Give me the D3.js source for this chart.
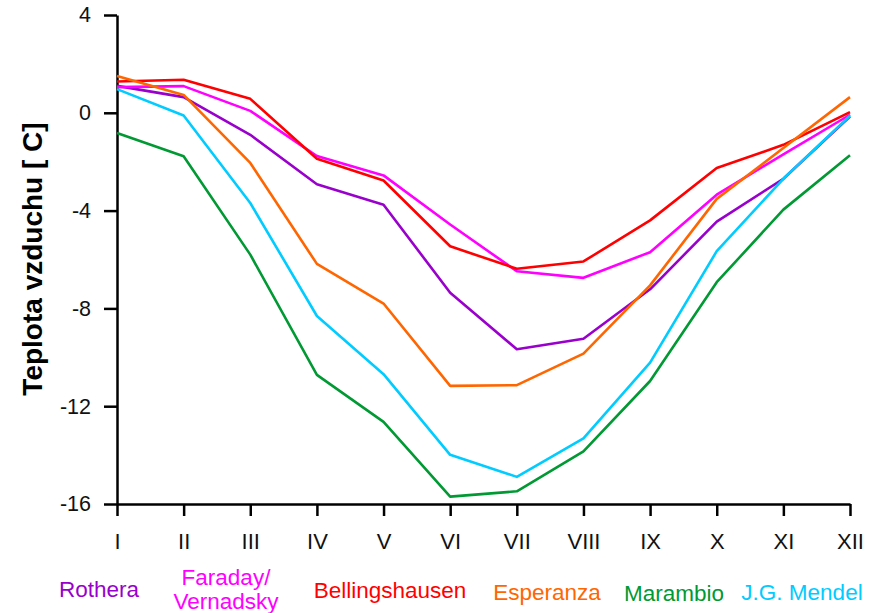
<!DOCTYPE html>
<html>
<head>
<meta charset="utf-8">
<script src="https://cdn.jsdelivr.net/npm/d3@7"></script>
<style>
  body { margin: 0; background: #fff; }
  svg { display: block; font-family: "Liberation Sans", Arial, sans-serif; }
</style>
</head>
<body>
<svg id="chart" width="877" height="613"></svg>
<script>
// months (Roman numerals) and y ticks
var months = ["I", "II", "III", "IV", "V", "VI", "VII", "VIII", "IX", "X", "XI", "XII"];
var yTicks = [-16, -12, -8, -4, 0, 4];

// mean monthly air temperature per station
var rothera     = [1.1, 0.64, -0.9, -2.92, -3.76, -7.36, -9.67, -9.24, -7.22, -4.45, -2.7, -0.15];
var faraday     = [1.05, 1.09, 0.08, -1.77, -2.56, -4.57, -6.48, -6.75, -5.7, -3.35, -1.7, -0.08];
var bellings    = [1.28, 1.35, 0.57, -1.88, -2.77, -5.46, -6.38, -6.08, -4.4, -2.26, -1.31, 0.03];
var esperanza   = [1.51, 0.73, -2.05, -6.18, -7.8, -11.17, -11.14, -9.85, -7.06, -3.52, -1.44, 0.64];
var marambio    = [-0.83, -1.78, -5.8, -10.72, -12.64, -15.7, -15.48, -13.85, -10.97, -6.93, -3.96, -1.74];
var mendel      = [0.97, -0.11, -3.69, -8.31, -10.69, -13.99, -14.89, -13.32, -10.22, -5.66, -2.7, -0.12];

var stations = ["Rothera", "Faraday/\nVernadsky", "Bellingshausen", "Esperanza", "Marambio", "J.G. Mendel"];
var colors = ["#9900cc", "#ff00ff", "#ff0000", "#ff6600", "#009933", "#00ccff"];
var series = [rothera, faraday, bellings, esperanza, marambio, mendel];

var svg = d3.select("#chart");

var xScale = d3.scalePoint().domain(months).range([117, 850]);
var yScale = d3.scaleLinear().domain([-16, 4]).range([504, 15]);

// y axis (plain hyphen for minus, like the original)
var yAxis = svg.append("g")
    .attr("transform", "translate(117,0)")
    .call(d3.axisLeft(yScale).tickValues(yTicks).tickFormat(function (d) { return String(d); })
        .tickSize(13).tickSizeOuter(0).tickPadding(13));
yAxis.select(".domain").attr("stroke", "#000").attr("stroke-width", 2.5);
yAxis.selectAll(".tick line").attr("stroke", "#000").attr("stroke-width", 2.5);
yAxis.selectAll(".tick text")
    .attr("font-size", 21.5)
    .attr("font-family", "Liberation Sans, Arial, sans-serif")
    .attr("fill", "#111");

// x axis
var xAxis = svg.append("g")
    .attr("transform", "translate(0,504)")
    .call(d3.axisBottom(xScale).tickSize(12).tickSizeOuter(0).tickPadding(17));
xAxis.select(".domain").attr("stroke", "#000").attr("stroke-width", 2.5);
xAxis.selectAll(".tick line").attr("stroke", "#000").attr("stroke-width", 2.5);
xAxis.selectAll(".tick text")
    .attr("font-size", 22)
    .attr("font-family", "Liberation Sans, Arial, sans-serif")
    .attr("fill", "#111");

// y title
svg.append("text")
    .attr("transform", "translate(42,259) rotate(-90)")
    .attr("text-anchor", "middle")
    .attr("font-size", 28)
    .attr("font-weight", "bold")
    .attr("fill", "#000")
    .text("Teplota vzduchu [ C]");

// lines
var line = d3.line()
    .x(function (d, i) { return xScale(months[i]); })
    .y(function (d) { return yScale(d); });

svg.selectAll(".lineSeries")
    .data(series)
    .enter().append("path")
    .attr("class", "lineSeries")
    .attr("fill", "none")
    .attr("stroke", function (d, i) { return colors[i]; })
    .attr("stroke-width", 2.6)
    .attr("stroke-linejoin", "round")
    .attr("d", line);

// legend below the axis
var legendX = [99, 226, 390, 547, 674, 802];
var legendY = [597, 585, 598, 600, 601, 600];
stations.forEach(function (name, i) {
    var t = svg.append("text")
        .attr("x", legendX[i])
        .attr("y", legendY[i])
        .attr("text-anchor", "middle")
        .attr("font-size", 22.5)
        .attr("fill", colors[i]);
    name.split("\n").forEach(function (part, j) {
        t.append("tspan")
            .attr("x", legendX[i])
            .attr("dy", j === 0 ? 0 : 24)
            .text(part);
    });
});
</script>
</body>
</html>
